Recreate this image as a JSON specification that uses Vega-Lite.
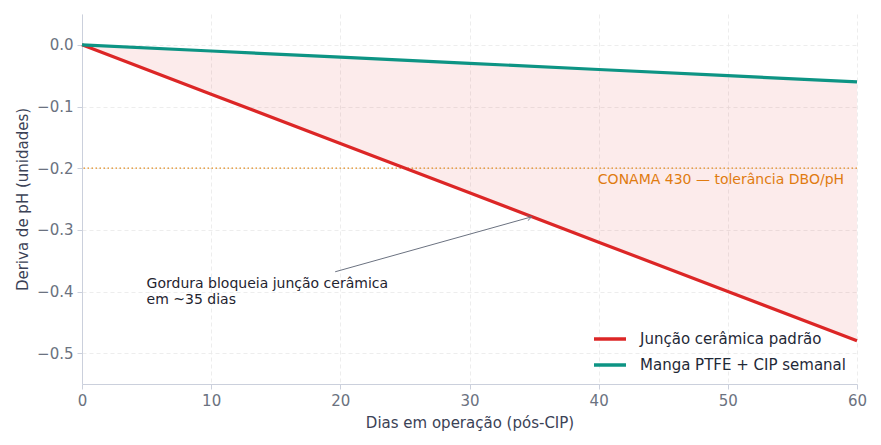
{
  "$schema": "https://vega.github.io/schema/vega-lite/v6.json",
  "width": 775,
  "height": 370,
  "autosize": {"type": "none"},
  "padding": {"left": 82, "top": 14, "right": 24, "bottom": 61},
  "background": "white",
  "config": {
    "font": "DejaVu Sans",
    "view": {"stroke": null},
    "axis": {
      "labelFont": "DejaVu Sans",
      "titleFont": "DejaVu Sans",
      "labelFontSize": 15,
      "titleFontSize": 15,
      "titleFontWeight": "normal",
      "labelColor": "#6b7280",
      "titleColor": "#3b4256",
      "domainColor": "#cbd0dc",
      "tickColor": "#cbd0dc",
      "tickSize": 5,
      "labelFlush": false,
      "gridColor": "#e8e8e8",
      "gridDash": [4, 3],
      "gridWidth": 0.8
    },
    "legend": {
      "labelFont": "DejaVu Sans",
      "labelFontSize": 15,
      "labelColor": "#1f2937",
      "labelLimit": 0
    }
  },
  "datasets": {
    "series": [
      {"dia": 0, "serie": "Junção cerâmica padrão", "ph": 0},
      {"dia": 10, "serie": "Junção cerâmica padrão", "ph": -0.08},
      {"dia": 20, "serie": "Junção cerâmica padrão", "ph": -0.16},
      {"dia": 30, "serie": "Junção cerâmica padrão", "ph": -0.24},
      {"dia": 40, "serie": "Junção cerâmica padrão", "ph": -0.32},
      {"dia": 50, "serie": "Junção cerâmica padrão", "ph": -0.40},
      {"dia": 60, "serie": "Junção cerâmica padrão", "ph": -0.48},
      {"dia": 0, "serie": "Manga PTFE + CIP semanal", "ph": 0},
      {"dia": 10, "serie": "Manga PTFE + CIP semanal", "ph": -0.01},
      {"dia": 20, "serie": "Manga PTFE + CIP semanal", "ph": -0.02},
      {"dia": 30, "serie": "Manga PTFE + CIP semanal", "ph": -0.03},
      {"dia": 40, "serie": "Manga PTFE + CIP semanal", "ph": -0.04},
      {"dia": 50, "serie": "Manga PTFE + CIP semanal", "ph": -0.05},
      {"dia": 60, "serie": "Manga PTFE + CIP semanal", "ph": -0.06}
    ],
    "band": [
      {"dia": 0, "padrao": 0, "ptfe": 0},
      {"dia": 10, "padrao": -0.08, "ptfe": -0.01},
      {"dia": 20, "padrao": -0.16, "ptfe": -0.02},
      {"dia": 30, "padrao": -0.24, "ptfe": -0.03},
      {"dia": 40, "padrao": -0.32, "ptfe": -0.04},
      {"dia": 50, "padrao": -0.40, "ptfe": -0.05},
      {"dia": 60, "padrao": -0.48, "ptfe": -0.06}
    ],
    "arrow": [
      {"xa": 19.6, "ya": -0.368, "xb": 34.8, "yb": -0.279}
    ],
    "notes": [
      {"x": 5, "y": -0.388, "label": "Gordura bloqueia junção cerâmica\nem ~35 dias"}
    ],
    "limit": [
      {"x": 59, "y": -0.219, "label": "CONAMA 430 — tolerância DBO/pH", "ref": -0.2}
    ]
  },
  "layer": [
    {
      "data": {"name": "band"},
      "mark": {"type": "area", "color": "#dc2626", "fillOpacity": 0.09},
      "encoding": {
        "x": {
          "field": "dia", "type": "quantitative",
          "scale": {"domain": [0, 60], "nice": false, "zero": false},
          "axis": {
            "title": "Dias em operação (pós-CIP)",
            "values": [0, 10, 20, 30, 40, 50, 60],
            "format": "d",
            "titlePadding": 7,
            "labelPadding": 4
          }
        },
        "y": {
          "field": "padrao", "type": "quantitative",
          "scale": {"domain": [-0.55, 0.05], "nice": false, "zero": false},
          "axis": {
            "title": "Deriva de pH (unidades)",
            "values": [-0.5, -0.4, -0.3, -0.2, -0.1, 0],
            "format": ".1f",
            "labelExpr": "replace(datum.label, '-', '−')",
            "titlePadding": 6,
            "labelPadding": 4
          }
        },
        "y2": {"field": "ptfe"}
      }
    },
    {
      "data": {"name": "limit"},
      "mark": {"type": "rule", "color": "#e08a1e", "strokeWidth": 1.3, "strokeDash": [1.5, 2.5]},
      "encoding": {
        "y": {"field": "ref", "type": "quantitative"}
      }
    },
    {
      "data": {"name": "series"},
      "mark": {"type": "line", "strokeWidth": 3.2},
      "encoding": {
        "x": {"field": "dia", "type": "quantitative"},
        "y": {"field": "ph", "type": "quantitative"},
        "color": {
          "field": "serie", "type": "nominal",
          "scale": {
            "domain": ["Junção cerâmica padrão", "Manga PTFE + CIP semanal"],
            "range": ["#dc2626", "#0d9484"]
          },
          "legend": {
            "title": null,
            "orient": "bottom-right",
            "offset": 11,
            "symbolType": "stroke",
            "symbolStrokeWidth": 3.5,
            "symbolSize": 1024,
            "rowPadding": -11,
            "labelOffset": 12
          }
        }
      }
    },
    {
      "data": {"name": "arrow"},
      "mark": {"type": "rule", "color": "#6b7280", "strokeWidth": 1},
      "encoding": {
        "x": {"field": "xa", "type": "quantitative"},
        "y": {"field": "ya", "type": "quantitative"},
        "x2": {"field": "xb"},
        "y2": {"field": "yb"}
      }
    },
    {
      "data": {"name": "arrow"},
      "mark": {
        "type": "point",
        "shape": "M-1,-0.6L0,0L-1,0.6",
        "filled": false,
        "stroke": "#6b7280",
        "strokeWidth": 1,
        "size": 80,
        "angle": -15.6
      },
      "encoding": {
        "x": {"field": "xb", "type": "quantitative"},
        "y": {"field": "yb", "type": "quantitative"}
      }
    },
    {
      "data": {"name": "notes"},
      "mark": {
        "type": "text", "align": "left", "baseline": "middle",
        "fontSize": 14, "color": "#1f2430", "lineBreak": "\n", "lineHeight": 16
      },
      "encoding": {
        "x": {"field": "x", "type": "quantitative"},
        "y": {"field": "y", "type": "quantitative"},
        "text": {"field": "label"}
      }
    },
    {
      "data": {"name": "limit"},
      "mark": {
        "type": "text", "align": "right", "baseline": "middle",
        "fontSize": 14, "color": "#e07b10"
      },
      "encoding": {
        "x": {"field": "x", "type": "quantitative"},
        "y": {"field": "y", "type": "quantitative"},
        "text": {"field": "label"}
      }
    }
  ]
}
